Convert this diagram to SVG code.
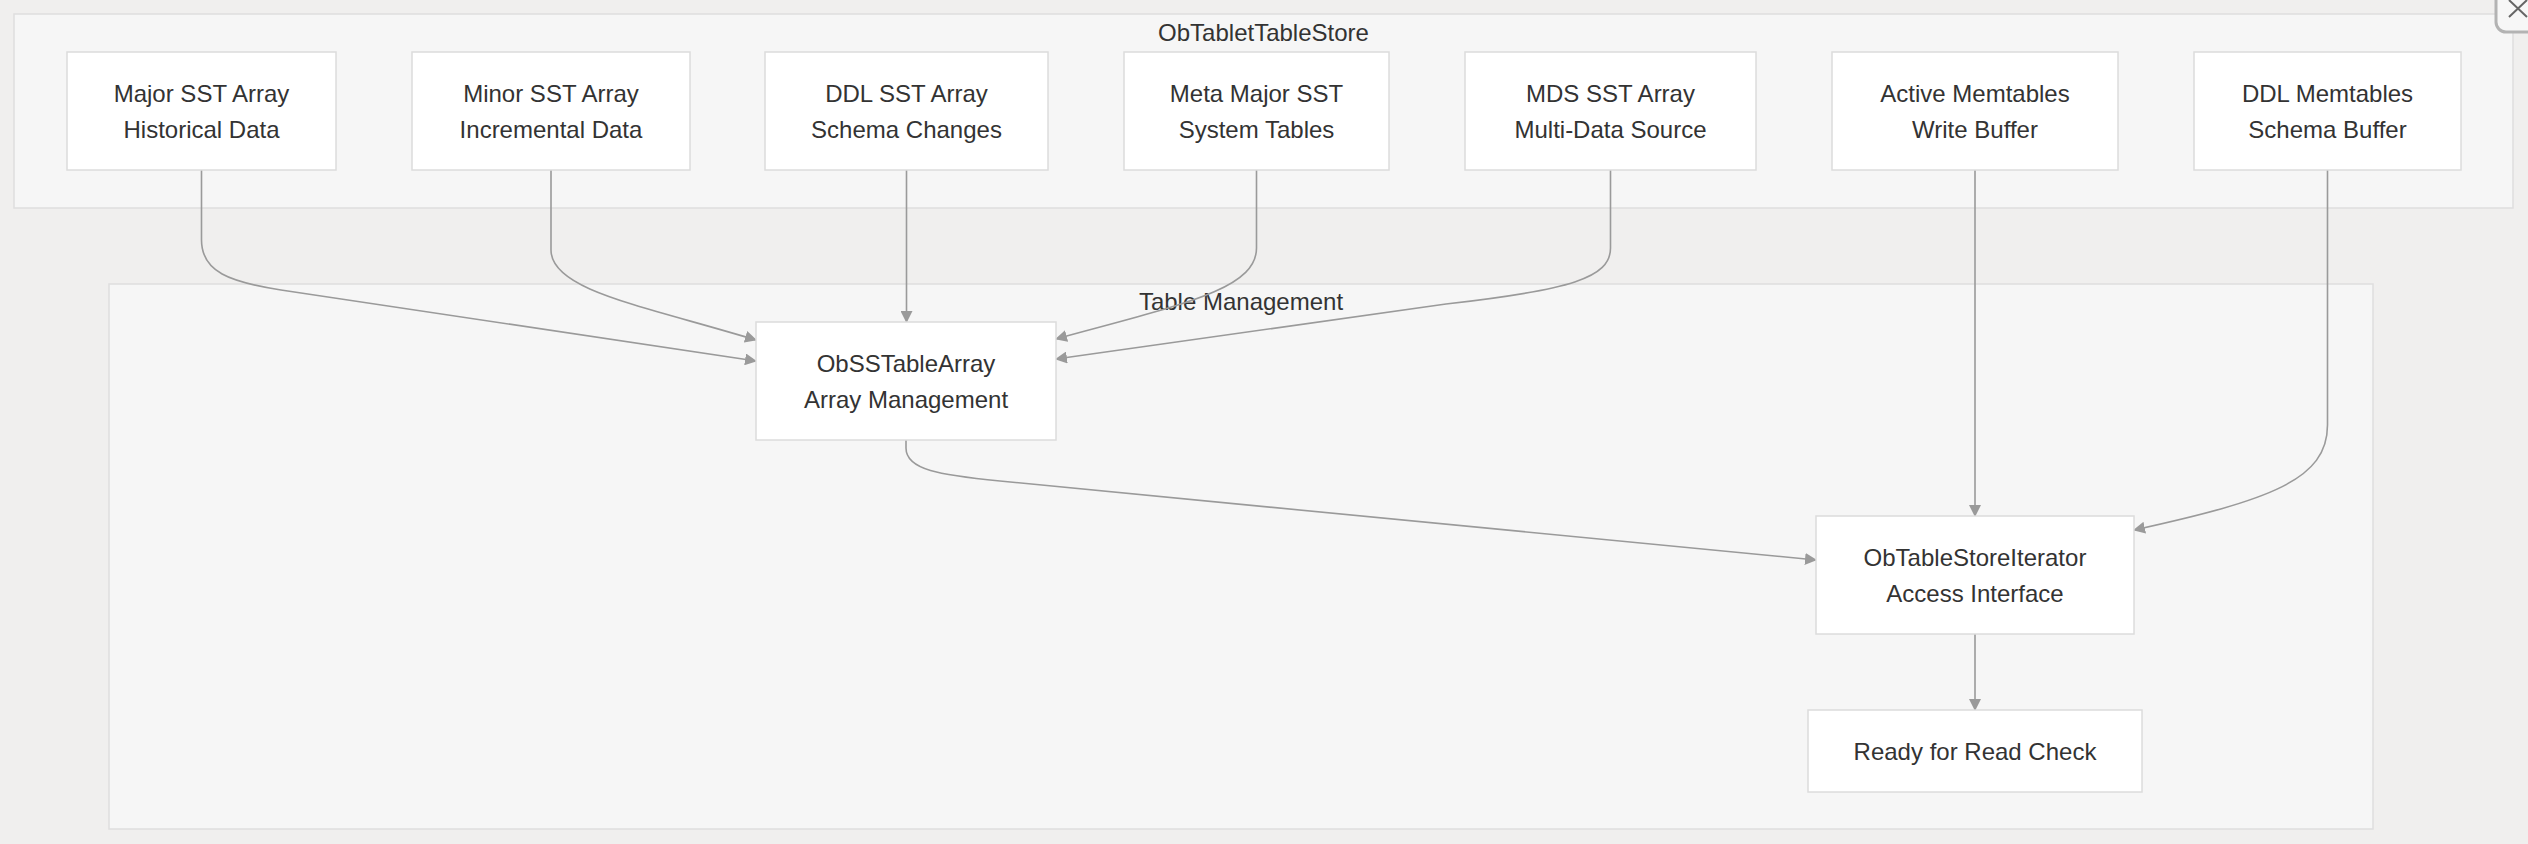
<svg xmlns="http://www.w3.org/2000/svg" width="2528" height="844" viewBox="0 0 2528 844">
<defs>
<style>
.bg{fill:#f0efee}
.cluster{fill:#f6f6f6;stroke:#dedede;stroke-width:1.5}
.node rect{fill:#ffffff;stroke:#dcdcdc;stroke-width:1.5}
.node text,.clabel{font-family:"Liberation Sans",Arial,sans-serif;font-size:24px;fill:#333333;text-anchor:middle}
.edge{fill:none;stroke:#9a9a9a;stroke-width:1.6}
</style>
<marker id="arrow" viewBox="0 0 12 12" refX="11" refY="6" markerWidth="12" markerHeight="12" markerUnits="userSpaceOnUse" orient="auto">
<path d="M0,0 L12,6 L0,12 z" fill="#9a9a9a"/>
</marker>
</defs>
<rect class="bg" x="0" y="0" width="2528" height="844"/>
<g id="cluster-store">
<rect class="cluster" x="14" y="14" width="2499" height="194"/>
<text class="clabel" x="1263.5" y="41">ObTabletTableStore</text>
</g>
<g id="cluster-mgmt">
<rect class="cluster" x="109" y="284" width="2264" height="545"/>
<text class="clabel" x="1241" y="310">Table Management</text>
</g>
<g id="edges">
<path class="edge" marker-end="url(#arrow)" d="M201.5,170 V240 C201.5,272 230,282 281,290 L756,361"/>
<path class="edge" marker-end="url(#arrow)" d="M551,170 V250 C551,290 640,305 756,340"/>
<path class="edge" marker-end="url(#arrow)" d="M906.5,170 V322"/>
<path class="edge" marker-end="url(#arrow)" d="M1256.5,170 V248 C1256.5,290 1180,305 1056,339"/>
<path class="edge" marker-end="url(#arrow)" d="M1610.5,170 V248 C1610.5,278 1570,290 1446,304 L1056,359"/>
<path class="edge" marker-end="url(#arrow)" d="M1975,170 V516"/>
<path class="edge" marker-end="url(#arrow)" d="M2327.5,170 V425 C2327.5,480 2270,500 2134,530"/>
<path class="edge" marker-end="url(#arrow)" d="M906,440 V448 C906,470 940,475 1000,481 L1816,560"/>
<path class="edge" marker-end="url(#arrow)" d="M1975,634 V710"/>
</g>
<g id="major" class="node">
<rect x="67" y="52" width="269" height="118"/>
<text x="201.5" y="102">Major SST Array</text>
<text x="201.5" y="138">Historical Data</text>
</g>
<g id="minor" class="node">
<rect x="412" y="52" width="278" height="118"/>
<text x="551" y="102">Minor SST Array</text>
<text x="551" y="138">Incremental Data</text>
</g>
<g id="ddlsst" class="node">
<rect x="765" y="52" width="283" height="118"/>
<text x="906.5" y="102">DDL SST Array</text>
<text x="906.5" y="138">Schema Changes</text>
</g>
<g id="meta" class="node">
<rect x="1124" y="52" width="265" height="118"/>
<text x="1256.5" y="102">Meta Major SST</text>
<text x="1256.5" y="138">System Tables</text>
</g>
<g id="mds" class="node">
<rect x="1465" y="52" width="291" height="118"/>
<text x="1610.5" y="102">MDS SST Array</text>
<text x="1610.5" y="138">Multi-Data Source</text>
</g>
<g id="active" class="node">
<rect x="1832" y="52" width="286" height="118"/>
<text x="1975" y="102">Active Memtables</text>
<text x="1975" y="138">Write Buffer</text>
</g>
<g id="ddlmem" class="node">
<rect x="2194" y="52" width="267" height="118"/>
<text x="2327.5" y="102">DDL Memtables</text>
<text x="2327.5" y="138">Schema Buffer</text>
</g>
<g id="sstarray" class="node">
<rect x="756" y="322" width="300" height="118"/>
<text x="906" y="372">ObSSTableArray</text>
<text x="906" y="408">Array Management</text>
</g>
<g id="iterator" class="node">
<rect x="1816" y="516" width="318" height="118"/>
<text x="1975" y="566">ObTableStoreIterator</text>
<text x="1975" y="602">Access Interface</text>
</g>
<g id="ready" class="node">
<rect x="1808" y="710" width="334" height="82"/>
<text x="1975" y="760">Ready for Read Check</text>
</g>
<g id="close-button">
<rect x="2496" y="-20" width="60" height="52" rx="10" fill="#f7f7f7" stroke="#b3b3b3" stroke-width="3"/>
<path d="M2509,0 L2527,17 M2509,17 L2527,0" stroke="#666" stroke-width="2" fill="none"/>
</g>
</svg>
